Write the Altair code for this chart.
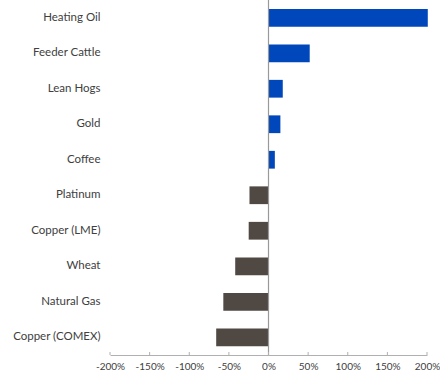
import altair as alt
import pandas as pd

categories = ["Heating Oil", "Feeder Cattle", "Lean Hogs", "Gold", "Coffee",
              "Platinum", "Copper (LME)", "Wheat", "Natural Gas", "Copper (COMEX)"]
returns_pct = [201, 52, 18, 15, 8, -24, -25, -42, -57, -66]
tick_values = [-200, -150, -100, -50, 0, 50, 100, 150, 200]

df = pd.DataFrame({"commodity": categories, "ret": returns_pct})
df["pos"] = df["ret"] >= 0
ticks_df = pd.DataFrame({"t": tick_values})

FONT = "Lato"
xscale = alt.Scale(domain=[-200, 200], nice=False, clamp=False)
xaxis = alt.Axis(title=None, values=tick_values, grid=False, ticks=False,
                 domainColor="#b0b0b0", domainWidth=1,
                 labelOverlap=False, labelFlush=False, labelBound=False,
                 labelFont=FONT, labelFontSize=10, labelColor="#404040",
                 labelPadding=6, labelExpr="datum.value + '%'")

bars = alt.Chart(df).mark_bar().encode(
    y=alt.Y("commodity:N", sort=categories,
            scale=alt.Scale(paddingInner=0.5, paddingOuter=0.25),
            axis=alt.Axis(title=None, domain=False, ticks=False, labelPadding=10,
                          labelFont=FONT, labelFontSize=11.5, labelColor="#404040")),
    x=alt.X("ret:Q", scale=xscale, axis=xaxis),
    color=alt.Color("pos:N", scale=alt.Scale(domain=[True, False],
                                             range=["#0047BB", "#504843"]), legend=None),
)

zero = alt.Chart(pd.DataFrame({"z": [0]})).mark_rule(color="#999999", strokeWidth=1.2).encode(
    x=alt.X("z:Q", scale=xscale, axis=xaxis)
)

tk = alt.Chart(ticks_df).mark_rule(color="#b0b0b0", strokeWidth=1).encode(
    x=alt.X("t:Q", scale=xscale, axis=xaxis),
    y=alt.value(352), y2=alt.value(355)
)

chart = alt.layer(bars, zero, tk).properties(
    width=317, height=355,
    autosize=alt.AutoSizeParams(type="none"),
    padding={"left": 110, "top": 0, "right": 13, "bottom": 23},
).configure_view(stroke=None)

chart.save("out.html", embed_options={"renderer": "svg", "actions": False})
